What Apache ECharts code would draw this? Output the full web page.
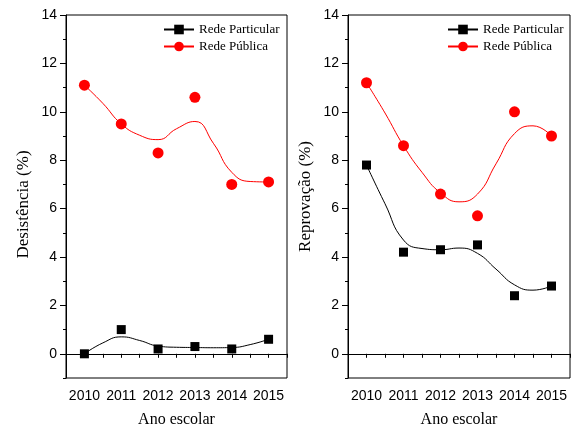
<!DOCTYPE html>
<html>
<head>
<meta charset="utf-8">
<script src="https://cdn.jsdelivr.net/npm/echarts@6/dist/echarts.min.js"></script>
<style>
  html, body { margin: 0; padding: 0; background: #fff; }
  #chart { width: 572px; height: 427px; }
</style>
</head>
<body>
<div id="chart"></div>
<script>
// anos e valores medidos
const anos = [2010, 2011, 2012, 2013, 2014, 2015];
const desistParticular = [0.0, 1.0, 0.2, 0.3, 0.2, 0.6];
const desistPublica = [11.1, 9.5, 8.3, 10.6, 7.0, 7.1];
const reprovParticular = [7.8, 4.2, 4.3, 4.5, 2.4, 2.8];
const reprovPublica = [11.2, 8.6, 6.6, 5.7, 10.0, 9.0];

// curvas de ajuste (a cada meio ano)
const anosCurva = [2010, 2010.5, 2011, 2011.5, 2012, 2012.5, 2013, 2013.5, 2014, 2014.5, 2015];
const curvaDesistParticular = [0.0, 0.45, 0.7, 0.55, 0.32, 0.27, 0.26, 0.25, 0.26, 0.38, 0.6];
const curvaDesistPublica = [11.1, 10.35, 9.5, 9.03, 8.85, 9.3, 9.6, 8.7, 7.5, 7.12, 7.1];
const curvaReprovParticular = [7.8, 6.2, 4.7, 4.35, 4.3, 4.37, 4.15, 3.5, 2.85, 2.63, 2.8];
const curvaReprovPublica = [11.2, 9.95, 8.6, 7.5, 6.65, 6.28, 6.6, 7.85, 9.1, 9.42, 9.0];

// marcas do eixo y
const yTicks = [0, 2, 4, 6, 8, 10, 12, 14];
const yTicksMenores = [-1, 1, 3, 5, 7, 9, 11, 13];

const serif = '"Liberation Serif", "Times New Roman", serif';
const sans = '"Liberation Sans", Arial, sans-serif';

function pares(xs, ys) {
  return xs.map((x, i) => [x, ys[i]]);
}

function eixoX(idx) {
  return {
    type: 'value', gridIndex: idx,
    min: 2009.5, max: 2015.5, interval: 0.5,
    name: 'Ano escolar', nameLocation: 'middle', nameGap: 34,
    nameTextStyle: { fontFamily: serif, fontSize: 16, color: '#000' },
    axisLine: { lineStyle: { color: '#000', width: 1 } },
    axisTick: { inside: false, length: 4, lineStyle: { color: '#000' } },
    axisLabel: {
      fontFamily: sans, fontSize: 14, color: '#000', margin: 11,
      formatter: v => (v % 1 === 0 ? String(v) : '')
    },
    splitLine: { show: false }
  };
}

function eixoY(idx, nome, pad) {
  return {
    type: 'value', gridIndex: idx,
    min: -1, max: 14, interval: 1,
    name: nome, nameLocation: 'middle', nameGap: 34,
    nameTextStyle: { fontFamily: serif, fontSize: 17, color: '#000', padding: pad },
    axisLine: { show: true, lineStyle: { color: '#000', width: 1 } },
    axisTick: { show: true, length: 6, customValues: yTicks, lineStyle: { color: '#000' } },
    axisLabel: {
      fontFamily: sans, fontSize: 14, color: '#000', margin: 9,
      customValues: yTicks
    },
    splitLine: { show: false }
  };
}

// eixo auxiliar só para as marcas menores
function eixoYMenor(idx) {
  return {
    type: 'value', gridIndex: idx, position: 'left',
    min: -1, max: 14, interval: 1,
    axisLine: { show: false },
    axisTick: { show: true, length: 3, customValues: yTicksMenores, lineStyle: { color: '#000' } },
    axisLabel: { show: false },
    splitLine: { show: false }
  };
}

function series(idx, partic, publ, cPartic, cPubl) {
  return [
    {
      name: 'Rede Particular', type: 'line', xAxisIndex: idx, yAxisIndex: idx,
      data: pares(anosCurva, cPartic), smooth: 0.5, symbol: 'rect', showSymbol: false,
      lineStyle: { color: '#000', width: 1 }, itemStyle: { color: '#000' }, z: 2
    },
    {
      name: 'Rede Pública', type: 'line', xAxisIndex: idx, yAxisIndex: idx,
      data: pares(anosCurva, cPubl), smooth: 0.5, symbol: 'circle', showSymbol: false,
      lineStyle: { color: '#ff0000', width: 1 }, itemStyle: { color: '#ff0000' }, z: 2
    },
    {
      name: 'Rede Particular', type: 'scatter', xAxisIndex: idx, yAxisIndex: idx,
      data: pares(anos, partic), symbol: 'rect', symbolSize: 9,
      itemStyle: { color: '#000', opacity: 1 }, z: 3
    },
    {
      name: 'Rede Pública', type: 'scatter', xAxisIndex: idx, yAxisIndex: idx,
      data: pares(anos, publ), symbol: 'circle', symbolSize: 11,
      itemStyle: { color: '#ff0000', opacity: 1 }, z: 3
    }
  ];
}

function legenda(left) {
  return {
    data: ['Rede Particular', 'Rede Pública'],
    orient: 'vertical', left: left, top: 23, padding: 0,
    itemWidth: 30, itemHeight: 12, itemGap: 4,
    textStyle: { fontFamily: serif, fontSize: 13, color: '#000' }
  };
}

const chart = echarts.init(document.getElementById('chart'), null, { renderer: 'canvas' });

const option = {
  animation: false,
  backgroundColor: '#fff',
  grid: [
    { left: 66, top: 15, width: 221, height: 363, show: true, borderColor: '#000', borderWidth: 1, outerBoundsMode: 'none', containLabel: false },
    { left: 348, top: 15, width: 222, height: 363, show: true, borderColor: '#000', borderWidth: 1, outerBoundsMode: 'none', containLabel: false }
  ],
  legend: [legenda(163), legenda(447)],
  xAxis: [eixoX(0), eixoX(1)],
  yAxis: [
    eixoY(0, 'Desistência (%)', [0, 16, 0, 0]),
    eixoY(1, 'Reprovação (%)', [0, 0, 0, 0]),
    eixoYMenor(0),
    eixoYMenor(1)
  ],
  series: series(0, desistParticular, desistPublica, curvaDesistParticular, curvaDesistPublica)
    .concat(series(1, reprovParticular, reprovPublica, curvaReprovParticular, curvaReprovPublica))
};

chart.setOption(option);
</script>
</body>
</html>
